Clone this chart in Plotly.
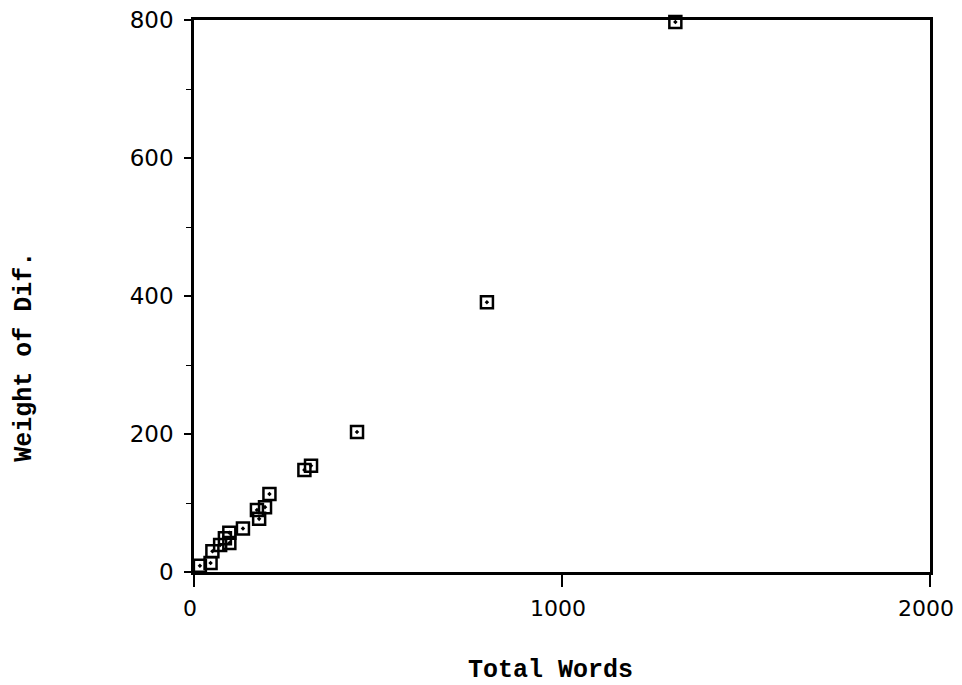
import plotly.graph_objects as go

total_words = [16, 45, 50, 71, 84, 96, 96, 133, 171, 177, 193, 205, 300, 318, 443, 796, 1308]
weight_of_dif = [9, 13, 30, 39, 49, 42, 57, 63, 90, 77, 94, 113, 148, 154, 203, 391, 797]

x_ticks = [0, 1000, 2000]
y_ticks = [0, 200, 400, 600, 800]
x_title = "Total Words"
y_title = "Weight of Dif."

fig = go.Figure()
fig.add_trace(go.Scatter(
    x=total_words, y=weight_of_dif, mode="markers",
    marker=dict(symbol="square-open-dot", size=12, color="black",
                line=dict(width=2.5, color="black")),
    showlegend=False, cliponaxis=False,
))

tick_font = dict(family="DejaVu Sans", size=22, color="black")
title_font = dict(family="Liberation Mono", size=25, color="black")

fig.update_layout(
    width=954, height=677,
    margin=dict(l=186, r=32, t=12, b=113, autoexpand=False),
    paper_bgcolor="white", plot_bgcolor="white",
    xaxis=dict(
        range=[0, 2000], tickvals=x_ticks, ticktext=[str(v) for v in x_ticks],
        showgrid=False, zeroline=False, showline=True, linecolor="black", linewidth=2.5,
        mirror=True, ticks="outside", ticklen=12, tickwidth=2, tickcolor="black",
        tickfont=tick_font, ticklabelstandoff=3, ticklabelshift=-4, automargin=False,
        ticklabeloverflow="allow",
    ),
    yaxis=dict(
        range=[0, 800], tickvals=y_ticks, ticktext=[str(v) for v in y_ticks],
        showgrid=False, zeroline=False, showline=True, linecolor="black", linewidth=2.5,
        mirror=True, ticks="outside", ticklen=7, tickwidth=2, tickcolor="black",
        tickfont=dict(family="DejaVu Sans", size=23, color="black"),
        ticklabelstandoff=6, automargin=False,
        ticklabeloverflow="allow",
        minor=dict(dtick=100, ticks="outside", ticklen=5, tickcolor="black", tickwidth=1),
    ),
    annotations=[
        dict(text=f"<b>{x_title}</b>", xref="paper", yref="paper", x=0.485, y=0,
             xanchor="center", yanchor="middle", yshift=-98, showarrow=False,
             font=title_font),
        dict(text=f"<b>{y_title}</b>", xref="paper", yref="paper", x=0, y=0.39,
             xanchor="center", yanchor="middle", xshift=-169, showarrow=False,
             textangle=-90, font=title_font),
    ],
)

fig.write_html("out.html")
